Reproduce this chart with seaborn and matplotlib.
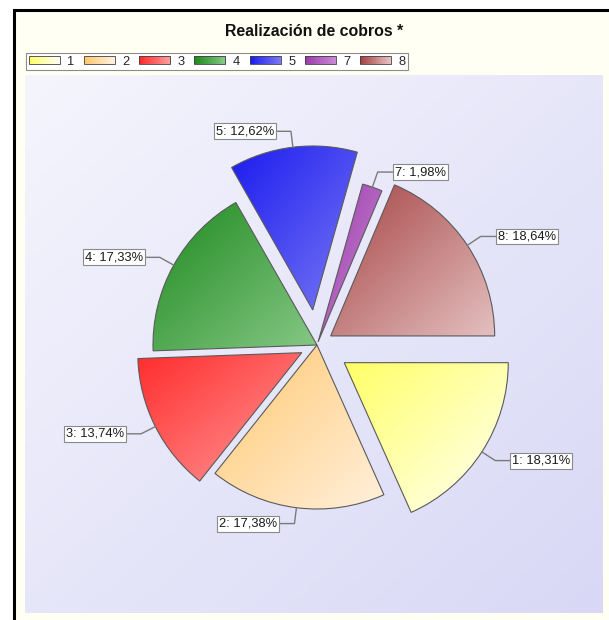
import matplotlib
matplotlib.use('Agg')
import matplotlib.pyplot as plt
import numpy as np
import seaborn as sns
from matplotlib.legend_handler import HandlerBase
from matplotlib.patches import Rectangle

# data
slice_labels = ['1', '2', '3', '4', '5', '7', '8']
shares = [18.31, 17.38, 13.74, 17.33, 12.62, 1.98, 18.64]
chart_title = 'Realización de cobros *'

# styling
explode = [0.198, 0.0, 0.104, 0.0, 0.215, 0.02, 0.10]
grad_start = ['#ffff66', '#ffc870', '#ff2c2c', '#1e8a1e', '#1c1cf0', '#9c3cac', '#a64444']
grad_end = ['#fffff6', '#fff0dc', '#ff9a9a', '#86c886', '#7878f4', '#c888d4', '#e4c0c0']

sns.set_style('white')
plt.rcParams['font.family'] = ['Liberation Sans', 'DejaVu Sans']

W, H = 609, 620
fig = plt.figure(figsize=(W / 100, H / 100), dpi=100)
fig.patch.set_facecolor('white')

# black frame with cream fill
frame = Rectangle((13.5 / W, -0.1), 1.2, 1 - 9.5 / H + 0.1, transform=fig.transFigure,
                  fc='#fffff4', ec='black', lw=2.2, zorder=-1)
fig.add_artist(frame)

# pie centre / radius and plot area, in pixels
cx, cy, R = 317, 345, 164
left, right, top, bottom = 25, 603, 75, 613
ax = fig.add_axes([left / W, 1 - bottom / H, (right - left) / W, (bottom - top) / H])
xlim = ((left - cx) / R, (right - cx) / R)
ylim = ((cy - bottom) / R, (cy - top) / R)

gx, gy = np.meshgrid(np.linspace(0, 1, 200), np.linspace(0, 1, 200))
diag = (gx + gy) / 2

# lavender background gradient
bg_cmap = sns.blend_palette(['#f5f5fd', '#d8d8f6'], as_cmap=True)
ax.imshow(diag, cmap=bg_cmap, extent=(*xlim, *ylim), origin='upper', aspect='auto', zorder=0)

wedges, _ = ax.pie(shares, explode=explode, startangle=0, counterclock=False, radius=1,
                   wedgeprops=dict(fc='none', ec='#5a5a5a', lw=0.8, zorder=3))

# gradient fill clipped to each wedge
for w, c0, c1 in zip(wedges, grad_start, grad_end):
    th = np.radians(np.linspace(w.theta1, w.theta2, 60))
    px = np.r_[w.center[0], w.center[0] + w.r * np.cos(th)]
    py = np.r_[w.center[1], w.center[1] + w.r * np.sin(th)]
    cmap = sns.blend_palette([c0, c1], as_cmap=True)
    im = ax.imshow(diag, cmap=cmap, extent=(px.min(), px.max(), py.min(), py.max()),
                   origin='upper', aspect='auto', zorder=2)
    im.set_clip_path(w)

# value labels with elbow connectors
for w, lab, val in zip(wedges, slice_labels, shares):
    a = np.radians((w.theta1 + w.theta2) / 2)
    ux, uy = np.cos(a), np.sin(a)
    x0, y0 = w.center[0] + w.r * ux, w.center[1] + w.r * uy
    x1, y1 = w.center[0] + (w.r + 16 / R) * ux, w.center[1] + (w.r + 16 / R) * uy
    s = 1 if ux >= 0 else -1
    x2 = x1 + s * 15 / R
    ax.plot([x0, x1, x2], [y0, y1, y1], color='#7a7a7a', lw=1, zorder=4, clip_on=False)
    ax.text(x2 + s * 2 / R, y1, f'{lab}: {val:.2f}%'.replace('.', ','),
            ha='left' if s > 0 else 'right', va='center', fontsize=9.3, color='#1a1a1a', zorder=5,
            bbox=dict(boxstyle='square,pad=0.15', fc='white', ec='#8a8a8a', lw=0.8))

ax.set_xlim(*xlim)
ax.set_ylim(*ylim)
ax.set_aspect('auto')
ax.axis('off')


class Swatch:
    def __init__(self, c0, c1):
        self.c0, self.c1 = c0, c1


class GradientSwatch(HandlerBase):
    def create_artists(self, legend, orig_handle, xdescent, ydescent, width, height, fontsize, trans):
        cols = sns.blend_palette([orig_handle.c0, orig_handle.c1], 16)
        n = len(cols)
        arts = [Rectangle((-xdescent + width * i / n, -ydescent), width / n + 0.3, height,
                          fc=c, ec='none', transform=trans) for i, c in enumerate(cols)]
        arts.append(Rectangle((-xdescent, -ydescent), width, height, fc='none',
                              ec='#404040', lw=0.6, transform=trans))
        return arts


handles = [Swatch(c0, c1) for c0, c1 in zip(grad_start, grad_end)]
leg = fig.legend(handles, slice_labels, handler_map={Swatch: GradientSwatch()},
                 loc='upper left', bbox_to_anchor=(26 / W, 1 - 53 / H), ncol=7,
                 fontsize=9.3, frameon=True, fancybox=False, framealpha=1,
                 borderpad=0.2, borderaxespad=0, handlelength=2.4, handleheight=0.54,
                 handletextpad=0.6, columnspacing=0.72)
leg.get_frame().set_edgecolor('#8c8c8c')
leg.get_frame().set_linewidth(0.8)

fig.text(314 / W, 1 - 32 / H, chart_title, ha='center', va='center',
         fontsize=11.4, fontweight='bold', color='#111111')

fig.savefig('out.png', dpi=100)
